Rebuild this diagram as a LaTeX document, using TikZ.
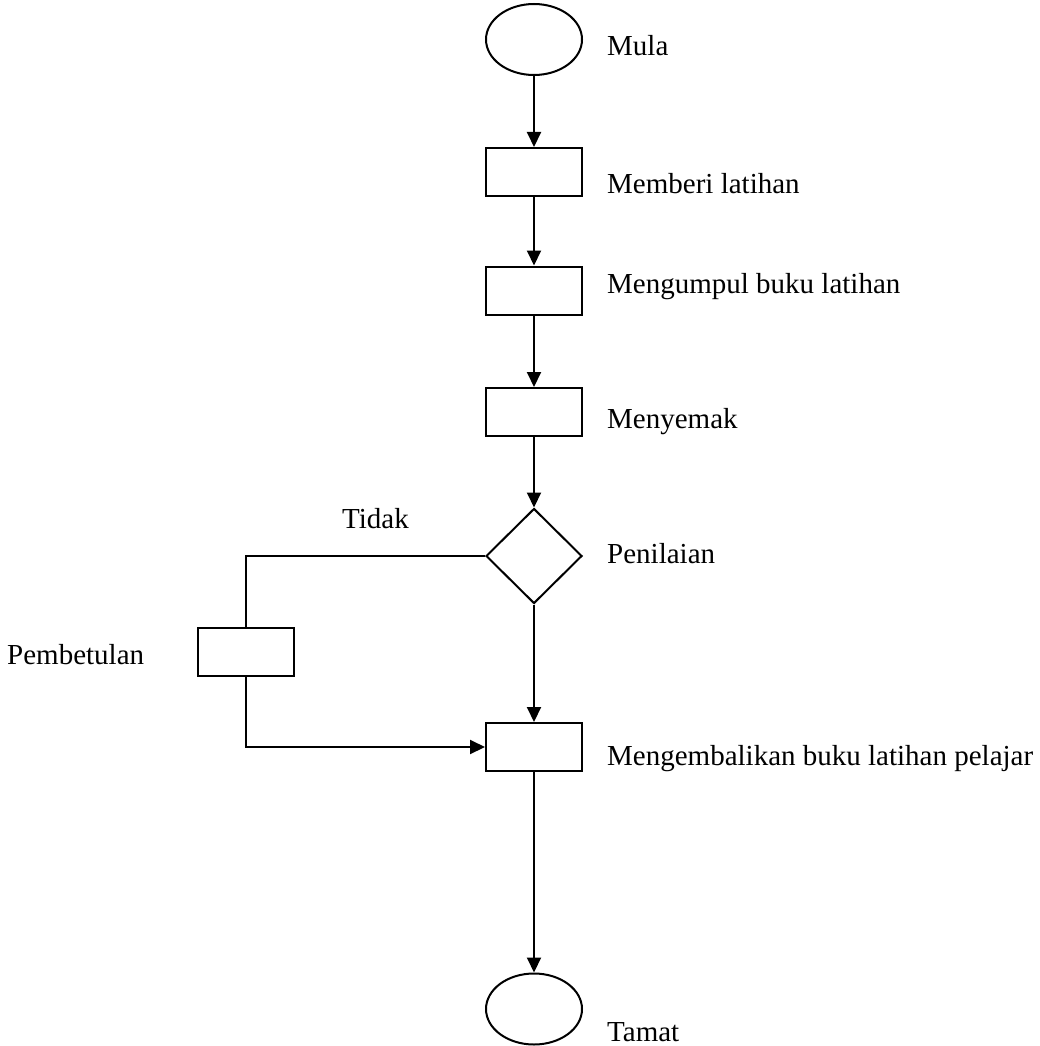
\documentclass[tikz,border=0pt]{standalone}
\usepackage{fontspec}
\setmainfont{Liberation Serif}
\usetikzlibrary{shapes.geometric,arrows.meta}
\begin{document}
\begin{tikzpicture}[x=1pt,y=-1pt,
  every node/.style={font=\fontsize{29}{34}\selectfont},
  terminal/.style={draw=black,line width=2pt,ellipse,minimum width=96pt,minimum height=71pt,inner sep=0pt},
  stepbox/.style={draw=black,line width=2pt,rectangle,minimum width=96pt,minimum height=48pt,inner sep=0pt},
  decision/.style={draw=black,line width=2pt,diamond,aspect=1,minimum width=96pt,minimum height=95pt,inner sep=0pt},
  lbl/.style={anchor=base west,inner sep=0pt},
  conn/.style={line width=2pt,-{Triangle[length=15pt,width=14pt]}},
  plain/.style={line width=2pt}]
\useasboundingbox (0,0) rectangle (1039,1046);
\node[terminal] (mula) at (534,39.5) {};
\node[stepbox] (b1) at (534,172) {};
\node[stepbox] (b2) at (534,290.5) {};
\node[stepbox] (b3) at (534,412) {};
\node[decision] (d) at (534,556) {};
\node[stepbox] (pb) at (246,652) {};
\node[stepbox] (b4) at (534,747) {};
\node[terminal] (tamat) at (534,1009) {};

\node[lbl] (lmula) at (607,56) {Mula};
\node[lbl] (lb1) at (607,193) {Memberi latihan};
\node[lbl] (lb2) at (607,293) {Mengumpul buku latihan};
\node[lbl] (lb3) at (607,428) {Menyemak};
\node[lbl] (ld) at (607,563) {Penilaian};
\node[lbl] (ltidak) at (342,528) {Tidak};
\node[lbl] (lpb) at (7,664) {Pembetulan};
\node[lbl] (lb4) at (607,765) {Mengembalikan buku latihan pelajar};
\node[lbl] (ltamat) at (607,1041) {Tamat};

\draw[conn] (mula.south) -- (b1.north);
\draw[conn] (b1.south) -- (b2.north);
\draw[conn] (b2.south) -- (b3.north);
\draw[conn] (b3.south) -- (d.north);
\draw[plain] (d.west) -- (pb.north |- d.west) -- (pb.north);
\draw[conn] (pb.south) |- (b4.west);
\draw[conn] (d.south) -- (b4.north);
\draw[conn] (b4.south) -- (tamat.north);
\end{tikzpicture}
\end{document}
